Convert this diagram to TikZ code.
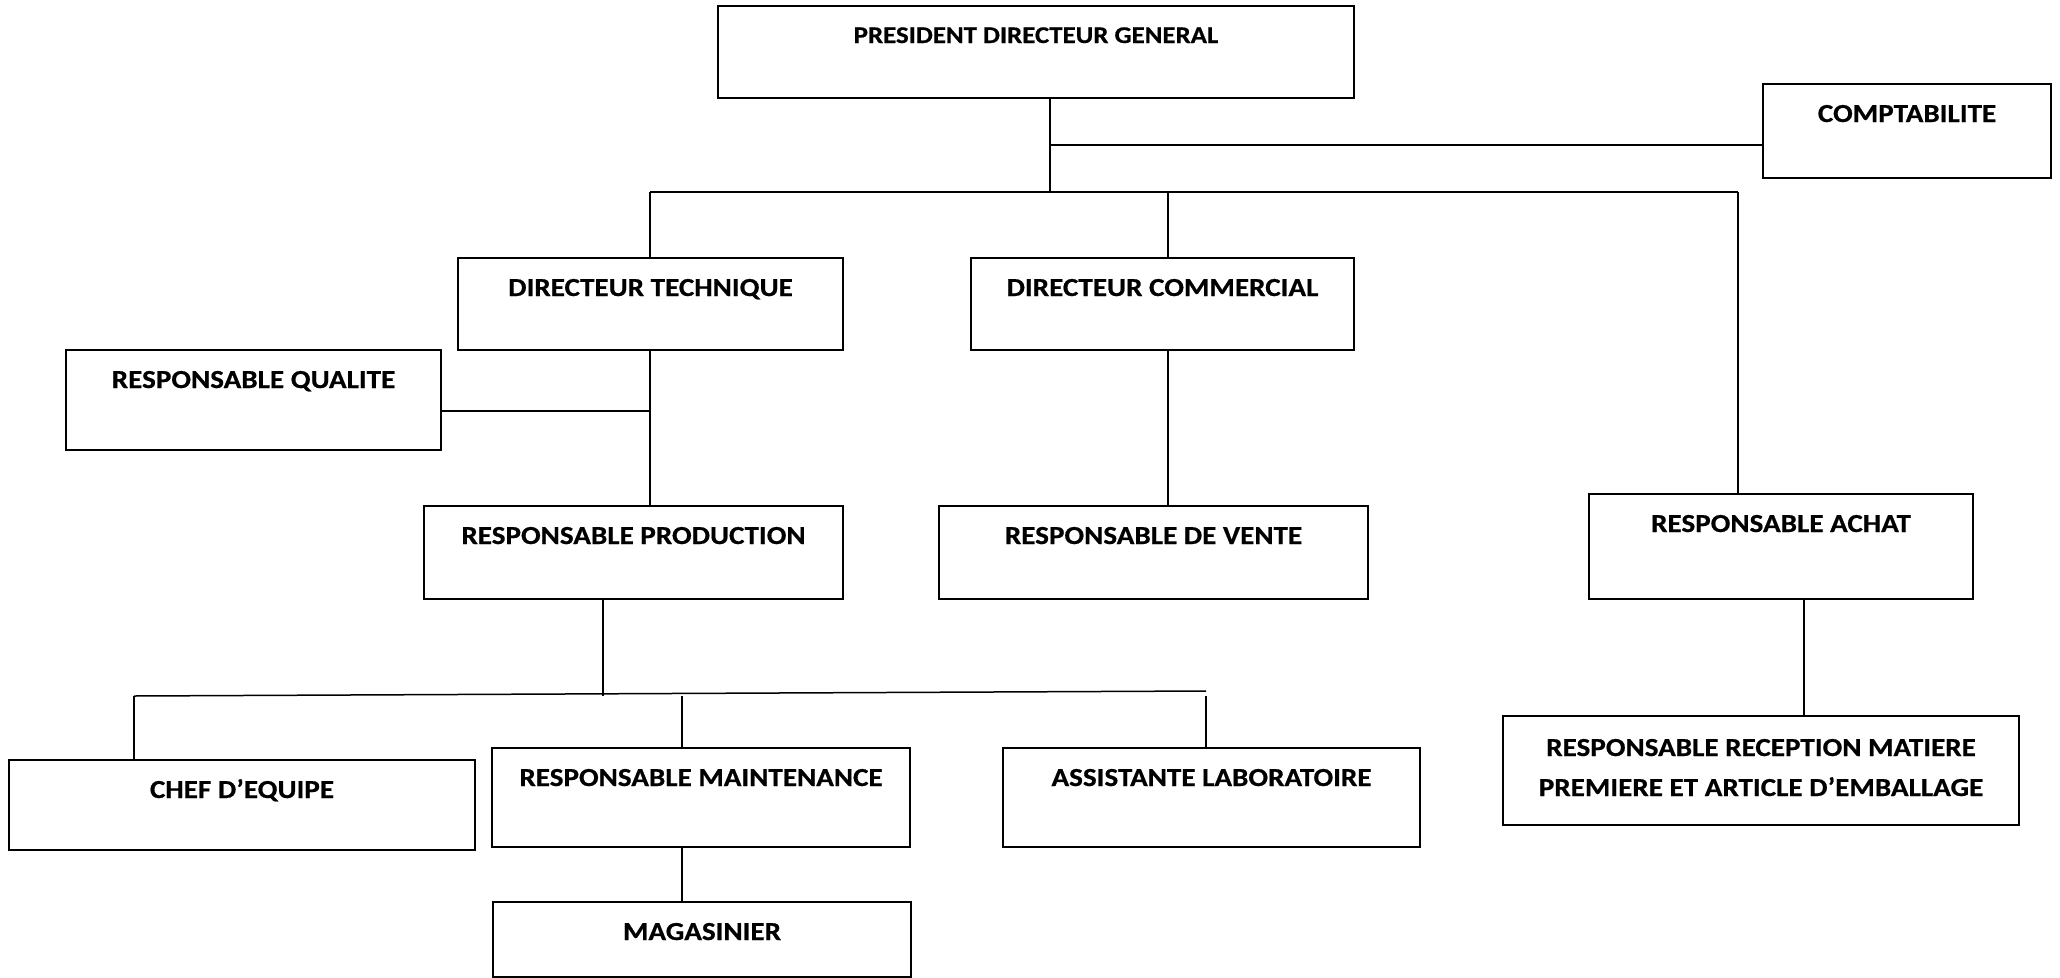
\documentclass[tikz,border=0pt]{standalone}
\usepackage{fontspec}
\setmainfont{Carlito}[FakeStretch=1.12, BoldFeatures={FakeBold=0.6}]
\tikzset{
	poste/.style={draw, line width=2pt, inner sep=0pt, anchor=north west, text height=38pt, align=center, font=\bfseries\fontsize{26}{40}\selectfont},
	lien/.style={line width=1.5pt}
}
\begin{document}
\begin{tikzpicture}[x=1pt, y=-1pt]
	\useasboundingbox (0,0) rectangle (2060,977);
	
	%Direction
	\node[poste, minimum width=636pt, text height=37pt, text depth=55pt, font=\bfseries\fontsize{24}{40}\selectfont] (pdg) at (717,5) {PRESIDENT DIRECTEUR GENERAL};
	\node[poste, minimum width=288pt, text depth=56pt] (compta) at (1762,83) {COMPTABILITE};
	
	%Second niveau
	\node[poste, minimum width=385pt, text depth=54pt] (dt) at (457,257) {DIRECTEUR TECHNIQUE};
	\node[poste, minimum width=383pt, text depth=54pt] (dc) at (970,257) {DIRECTEUR COMMERCIAL};
	\node[poste, minimum width=375pt, text depth=62pt] (rq) at (65,349) {RESPONSABLE QUALITE};
	
	%Troisieme niveau
	\node[poste, minimum width=419pt, text depth=55pt] (rp) at (423,505) {RESPONSABLE PRODUCTION};
	\node[poste, minimum width=429pt, text depth=55pt] (rv) at (938,505) {RESPONSABLE DE VENTE};
	\node[poste, minimum width=384pt, text depth=67pt] (ra) at (1588,493) {RESPONSABLE ACHAT};
	\node[poste, minimum width=516pt, text height=80pt, text depth=29pt] (rrm) at (1502,715) {RESPONSABLE RECEPTION MATIERE\\PREMIERE ET ARTICLE D'EMBALLAGE};
	
	%Production
	\node[poste, minimum width=466pt, text depth=52pt] (ce) at (8,759) {CHEF D'EQUIPE};
	\node[poste, minimum width=418pt, text depth=61pt] (rm) at (491,747) {RESPONSABLE MAINTENANCE};
	\node[poste, minimum width=417pt, text depth=61pt] (al) at (1002,747) {ASSISTANTE LABORATOIRE};
	\node[poste, minimum width=418pt, text depth=37pt] (mag) at (492,901) {MAGASINIER};
	
	%Liaisons
	\coordinate (j0) at (1050,192);
	\coordinate (jc) at (1050,145);
	\coordinate (bg) at (650,192);
	\coordinate (bc) at (1168,192);
	\coordinate (bd) at (1738,192);
	\coordinate (jq) at (650,411);
	\coordinate (ba) at (1804,598);
	\coordinate (jp) at (603,696);
	\coordinate (eg) at (134,696);
	\coordinate (ed) at (1206,691);
	\coordinate (em) at (682,696);
	\coordinate (el) at (1206,696);
	
	\draw[lien] (pdg.south -| j0) -- (j0);
	\draw[lien] (jc) -- (jc -| compta.west);
	\draw[lien] (bg) -- (bd);
	\draw[lien] (bg) -- (bg |- dt.north);
	\draw[lien] (bc) -- (bc |- dc.north);
	\draw[lien] (bd) -- (bd |- ra.north);
	\draw[lien] (bg |- dt.south) -- (bg |- rp.north);
	\draw[lien] (jq) -- (jq -| rq.east);
	\draw[lien] (bc |- dc.south) -- (bc |- rv.north);
	\draw[lien] (ba) -- (ba |- rrm.north);
	\draw[lien] (jp |- rp.south) -- (jp);
	\draw[lien] (eg) -- (ed);
	\draw[lien] (eg) -- (eg |- ce.north);
	\draw[lien] (em) -- (em |- rm.north);
	\draw[lien] (el) -- (el |- al.north);
	\draw[lien] (em |- rm.south) -- (em |- mag.north);
\end{tikzpicture}
\end{document}
